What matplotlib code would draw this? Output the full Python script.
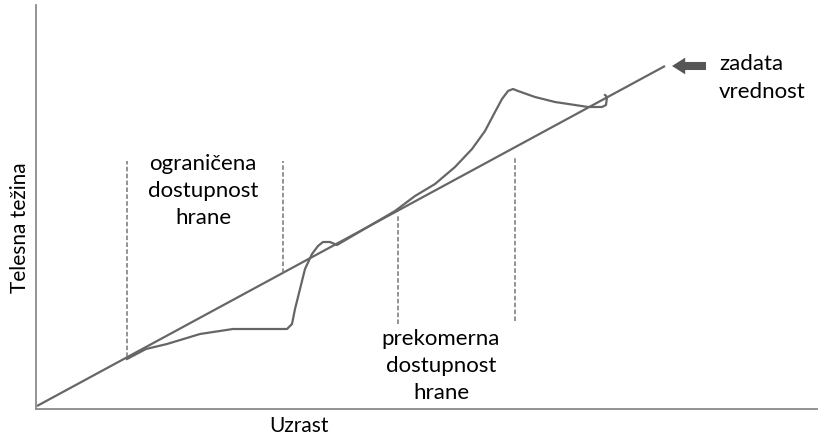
import matplotlib.pyplot as plt

plt.rcParams['font.family'] = ['Lato', 'DejaVu Sans']

# set-point line (zadata vrednost)
line_x = [1, 629]
line_y = [3, 343]

# body weight curve: restricted then excessive food availability
curve_x = [91, 110, 131, 164, 197, 234, 251, 256, 259, 264, 269, 276, 282, 287, 294, 301,
           330, 359, 379, 399, 419, 436, 449, 459, 466, 472, 477, 482, 499, 519, 539,
           552, 566, 570, 571, 569]
curve_y = [50, 60, 65, 75, 80, 80, 80, 85, 100, 120, 140, 155, 163, 167, 167, 164,
           181, 198, 213, 225, 242, 260, 278, 297, 310, 318, 320, 318, 312, 307, 304,
           302, 302, 304, 312, 314]

# dashed markers: x, bottom, top
dash_x = [91, 247, 362, 479]
dash_lo = [52, 136, 85, 88]
dash_hi = [248, 248, 195, 252]

gray = '#666666'

fig = plt.figure(figsize=(8.18, 4.35), dpi=100)
ax = fig.add_axes([36 / 818, 25 / 435, 782 / 818, 404 / 435])
ax.set_xlim(0, 782)
ax.set_ylim(0, 404)

ax.plot(line_x, line_y, color=gray, lw=1.6, solid_capstyle='butt')
ax.plot(curve_x, curve_y, color=gray, lw=1.6, solid_joinstyle='round')
for x, lo, hi in zip(dash_x, dash_lo, dash_hi):
    ax.plot([x, x], [lo, hi], color='#777777', lw=1.1, dashes=(3, 1.5))

ax.annotate('', xy=(636, 343), xytext=(670, 343),
            arrowprops=dict(arrowstyle='simple,head_length=0.95,head_width=1.2,tail_width=0.58',
                            color='#555555', lw=0, shrinkA=0, shrinkB=0))

ax.text(167, 219, 'ograničena\ndostupnost\nhrane', ha='center', va='center',
        fontsize=16, linespacing=1.45)
ax.text(405, 44, 'prekomerna\ndostupnost\nhrane', ha='center', va='center',
        fontsize=16, linespacing=1.45)
ax.text(683, 332, 'zadata\nvrednost', ha='left', va='center',
        fontsize=16, linespacing=1.45)

fig.text(20 / 818, 1 - 228 / 435, 'Telesna težina', rotation=90,
         ha='center', va='center', fontsize=15)
fig.text(299 / 818, 1 - 426 / 435, 'Uzrast', ha='center', va='center', fontsize=15)

for side in ['top', 'right']:
    ax.spines[side].set_visible(False)
for side in ['left', 'bottom']:
    ax.spines[side].set_color('#8a8a8a')
    ax.spines[side].set_linewidth(1.3)
ax.set_xticks([])
ax.set_yticks([])

fig.savefig('out.png', dpi=100)
